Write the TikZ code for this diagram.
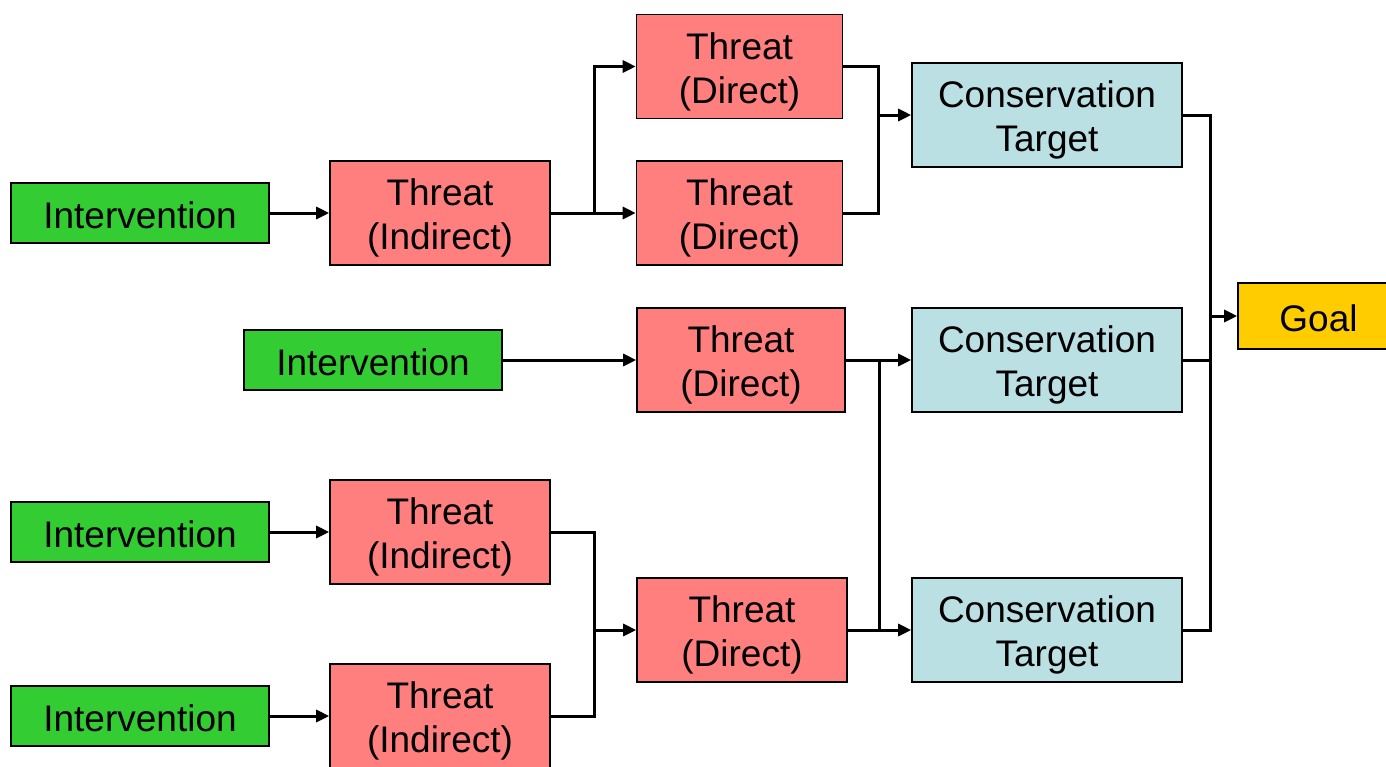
\documentclass[tikz,border=0pt]{standalone}
\usepackage{fontspec}
\setmainfont{Liberation Sans}
\usetikzlibrary{arrows.meta}
\definecolor{intgreen}{HTML}{33CC33}
\definecolor{threatred}{HTML}{FF7F7F}
\definecolor{targetblue}{HTML}{BBE0E3}
\definecolor{goalgold}{HTML}{FFCC00}
\begin{document}
\begin{tikzpicture}[x=1pt,y=-1pt,
  box/.style={draw=black, line width=1.6pt, inner sep=0pt, align=center,
    font=\fontsize{37}{44}\selectfont},
  oneline/.style={box, text height=32pt},
  twoline/.style={box, text height=81pt},
  intbox/.style={oneline, fill=intgreen, minimum width=258pt, minimum height=60pt},
  indbox/.style={twoline, fill=threatred, minimum width=220pt, minimum height=104pt},
  dirbox/.style={twoline, fill=threatred, minimum width=206pt, minimum height=104pt},
  tgtbox/.style={twoline, fill=targetblue, minimum width=270pt, minimum height=104pt},
  goalbox/.style={oneline, fill=goalgold, minimum width=161pt, minimum height=66pt},
  link/.style={line width=3pt, line join=miter},
  arr/.style={link, -{Triangle[length=13pt,width=12pt]}}]
\useasboundingbox (0,0) rectangle (1386,766);

% interventions
\node[intbox] (int1) at (140,213) {Intervention};
\node[intbox] (int2) at (373,360) {Intervention};
\node[intbox] (int3) at (140,532) {Intervention};
\node[intbox] (int4) at (140,716) {Intervention};

% indirect threats
\node[indbox] (ti1) at (440,213) {Threat\\(Indirect)};
\node[indbox] (ti3) at (440,532) {Threat\\(Indirect)};
\node[indbox] (ti4) at (440,716) {Threat\\(Indirect)};

% direct threats
\node[dirbox] (td1) at (739.5,66.5) {Threat\\(Direct)};
\node[dirbox] (td2) at (739.5,213) {Threat\\(Direct)};
\node[dirbox, minimum width=208pt] (td3) at (741,360) {Threat\\(Direct)};
\node[dirbox, minimum width=210pt] (td4) at (742,630) {Threat\\(Direct)};

% conservation targets
\node[tgtbox] (ct1) at (1047,115) {Conservation\\Target};
\node[tgtbox] (ct2) at (1047,360) {Conservation\\Target};
\node[tgtbox] (ct3) at (1047,630) {Conservation\\Target};

% goal
\node[goalbox] (goal) at (1318.5,316) {Goal};

% junction points
\coordinate (j1) at (594,213);
\coordinate (j2) at (878,115);
\coordinate (j3) at (879,360);
\coordinate (j4) at (879,630);
\coordinate (j5) at (594,630);
\coordinate (jg) at (1210,316);

% interventions to threats
\draw[arr] (int1) -- (ti1);
\draw[arr] (int2) -- (td3);
\draw[arr] (int3) -- (ti3);
\draw[arr] (int4) -- (ti4);

% indirect to direct threats
\draw[link] (ti1.east) -- (j1);
\draw[arr] (j1) |- (td1.west);
\draw[arr] (j1) -- (td2.west);
\draw[link] (ti3.east) -| (j5);
\draw[link] (ti4.east) -| (j5);
\draw[arr] (j5) -- (td4.west);

% direct threats to targets
\draw[link] (td1.east) -| (j2);
\draw[link] (td2.east) -| (j2);
\draw[arr] (j2) -- (ct1.west);
\draw[arr] (td3) -- (ct2);
\draw[arr] (td4) -- (ct3);
\draw[link] (j3) -- (j4);

% targets to goal
\draw[link] (ct1.east) -| (jg);
\draw[link] (ct3.east) -| (jg);
\draw[link] (ct2.east) -- (ct2.east -| jg);
\draw[arr] (jg) -- (goal.west);
\end{tikzpicture}
\end{document}
